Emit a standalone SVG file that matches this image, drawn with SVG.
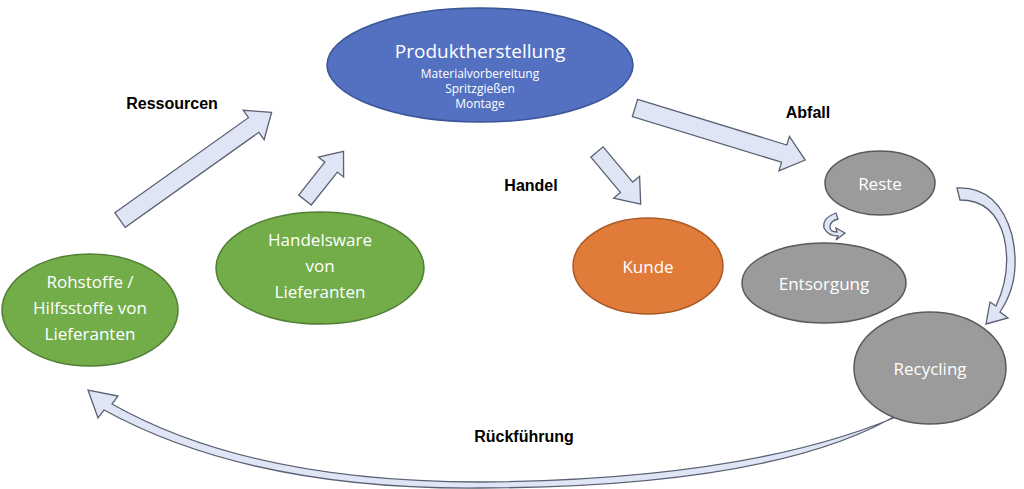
<svg xmlns="http://www.w3.org/2000/svg" width="1024" height="489" viewBox="0 0 1024 489">
<style>
.arr{fill:#dfe5f4;stroke:#5a6172;stroke-width:1.3;stroke-linejoin:miter}
.nt{font-family:"Open Sans","Liberation Sans",sans-serif;fill:#fff;text-anchor:middle}
.lb{font-family:"Liberation Sans",sans-serif;font-weight:bold;font-size:16px;fill:#000;text-anchor:middle}
.g{fill:#72ad4a;stroke:#507e34;stroke-width:1.5}
.gr{fill:#9b9b9b;stroke:#5a5a5a;stroke-width:1.5}
</style>
<rect width="1024" height="489" fill="#fff"/>
<g id="connectors">
<polygon class="arr" transform="translate(120,220) rotate(-35.4)" points="0,-9 164,-9 164,-18 186,0 164,18 164,9 0,9"/>
<polygon class="arr" transform="translate(305,200) rotate(-51.6)" points="0,-8 42,-8 42,-16 62,0 42,16 42,8 0,8"/>
<polygon class="arr" transform="translate(597,152) rotate(50)" points="0,-8 46,-8 46,-17 68,0 46,17 46,8 0,8"/>
<polygon class="arr" transform="translate(635,108) rotate(17)" points="0,-9 156,-9 156,-18 178,0 156,18 156,9 0,9"/>
<path class="arr" d="M836,213 Q822,218 824,228 Q828,236 838,236 L836,240 L845,233 L836,228 L837,232 Q830,232 830,227 Q830,221 838,219 Z"/>
<path class="arr" d="M957,188 Q998,186 1012,235 Q1022,280 1000,312 L1008,318 L986,324 L990,302 L996,306 Q1012,272 1004,237 Q994,200 960,200 Z"/>
<path class="arr" d="M912,410 Q760,480 480,482 Q250,482 112,404 L118,396 L88,390 L98,418 L104,410 Q250,490 480,488 Q780,487 902,412 Z"/>
</g>
<g id="produktherstellung">
<ellipse cx="480" cy="65" rx="153" ry="57" fill="#5370c1" stroke="#3b5596" stroke-width="1.5"/>
<text class="nt" x="480" y="58" font-size="19">Produktherstellung</text>
<text class="nt" x="480" y="78" font-size="12">Materialvorbereitung</text>
<text class="nt" x="480" y="93" font-size="12">Spritzgießen</text>
<text class="nt" x="480" y="108" font-size="12">Montage</text>
</g>
<g id="kunde">
<ellipse cx="648" cy="266" rx="75" ry="48" fill="#e07b39" stroke="#a85a27" stroke-width="1.5"/>
<text class="nt" x="648" y="273" font-size="17">Kunde</text>
</g>
<g id="reste">
<ellipse cx="880" cy="183" rx="55" ry="32" class="gr"/>
<text class="nt" x="880" y="190" font-size="17">Reste</text>
</g>
<g id="entsorgung">
<ellipse cx="824" cy="283" rx="82" ry="40" class="gr"/>
<text class="nt" x="824" y="290" font-size="17">Entsorgung</text>
</g>
<g id="recycling">
<ellipse cx="930" cy="368" rx="76" ry="56" class="gr"/>
<text class="nt" x="930" y="375" font-size="17">Recycling</text>
</g>
<g id="handelsware">
<ellipse cx="320" cy="268" rx="104" ry="56" class="g"/>
<text class="nt" x="320" y="246" font-size="17">Handelsware</text>
<text class="nt" x="320" y="272" font-size="17">von</text>
<text class="nt" x="320" y="298" font-size="17">Lieferanten</text>
</g>
<g id="rohstoffe">
<ellipse cx="90" cy="310" rx="88" ry="56" class="g"/>
<text class="nt" x="90" y="288" font-size="17">Rohstoffe /</text>
<text class="nt" x="90" y="314" font-size="17">Hilfsstoffe von</text>
<text class="nt" x="90" y="340" font-size="17">Lieferanten</text>
</g>
<g id="labels">
<text class="lb" x="172" y="109">Ressourcen</text>
<text class="lb" x="808" y="118">Abfall</text>
<text class="lb" x="531" y="191">Handel</text>
<text class="lb" x="524" y="442">Rückführung</text>
</g>
</svg>
